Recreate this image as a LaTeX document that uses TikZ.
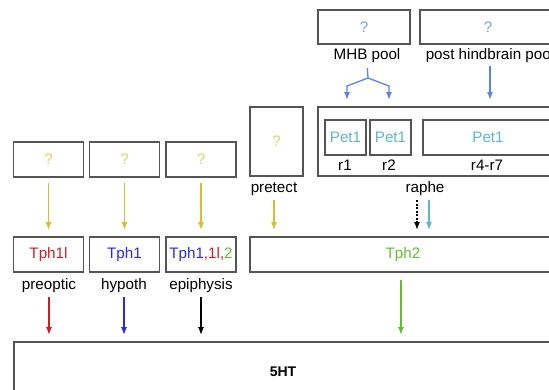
\documentclass[tikz,border=0pt]{standalone}
\usepackage{fontspec}
\setmainfont{Liberation Sans}
\usetikzlibrary{arrows.meta,calc}
\definecolor{boxgray}{HTML}{555555}
\definecolor{qyellow}{HTML}{D6BE30}
\definecolor{qlight}{HTML}{E2D060}
\definecolor{poolblue}{HTML}{5C82EC}
\definecolor{petcyan}{HTML}{5CB8C8}
\definecolor{tphred}{HTML}{C8202A}
\definecolor{tphblue}{HTML}{2A2AE6}
\definecolor{tphgreen}{HTML}{66BB33}
\newcommand\lblfont{\fontsize{15.2}{17}\selectfont}
\tikzset{
  box/.style={draw=boxgray, line width=1.3pt, inner sep=0pt, outer sep=0pt, font=\lblfont},
  lbl/.style={inner sep=0pt, font=\lblfont, text height=11pt, text depth=3pt},
  arr/.style={line width=1.3pt, -{Latex[length=8pt,width=6pt]}, shorten >=7pt, shorten <=6pt}
}
\begin{document}
\begin{tikzpicture}[x=1pt, y=-1pt]
    \useasboundingbox (0,0) rectangle (549,389);
    \clip (0,0) rectangle (549,389);
    % pools
    \node [box, minimum width=92, minimum height=34] (mhb) at (364, 27) {\textcolor{poolblue!80}{?}};
    \node [box, minimum width=136, minimum height=34] (post) at (488, 27) {\textcolor{poolblue!80}{?}};
    \node [lbl] (mhblbl) at (367, 55) {MHB pool};
    \node [lbl] (postlbl) at (490, 55) {post hindbrain pool};
    % raphe
    \node [box, minimum width=242, minimum height=69] (raphe) at (439, 141.5) {};
    \node [box, minimum width=41, minimum height=35] (r1) at (345.5, 137.5) {\textcolor{petcyan}{Pet1}};
    \node [box, minimum width=41, minimum height=35] (r2) at (390.5, 137.5) {\textcolor{petcyan}{Pet1}};
    \node [box, minimum width=130, minimum height=35] (r47) at (488, 137.5) {\textcolor{petcyan}{Pet1}};
    \node [lbl] (r1lbl) at (345, 166) {r1};
    \node [lbl] (r2lbl) at (389, 166) {r2};
    \node [lbl] (r47lbl) at (487, 166) {r4-r7};
    \node [lbl] (raphelbl) at (425, 188) {raphe};
    % pretect
    \node [box, minimum width=53, minimum height=69] (pretect) at (276.5, 141.5) {\textcolor{qlight}{?}};
    \node [lbl] (pretectlbl) at (274, 188) {pretect};
    % forebrain groups
    \node [box, minimum width=70, minimum height=35] (q1) at (48.5, 159.5) {\textcolor{qlight}{?}};
    \node [box, minimum width=70, minimum height=35] (q2) at (124.5, 159.5) {\textcolor{qlight}{?}};
    \node [box, minimum width=70, minimum height=35] (q3) at (201, 159.5) {\textcolor{qlight}{?}};
    \node [box, minimum width=70, minimum height=35] (t1) at (48.5, 254.5) {\textcolor{tphred}{Tph1l}};
    \node [box, minimum width=70, minimum height=35] (t2) at (124.5, 254.5) {\textcolor{tphblue}{Tph1}};
    \node [box, minimum width=70, minimum height=35] (t3) at (201, 254.5) {\textcolor{tphblue}{Tph1}\textcolor{tphred}{,1l,}\textcolor{tphgreen}{2}};
    \node [lbl] (t1lbl) at (49, 285) {preoptic};
    \node [lbl] (t2lbl) at (124, 285) {hypoth};
    \node [lbl] (t3lbl) at (201, 285) {epiphysis};
    \node [box, minimum width=306, minimum height=35] (tph2) at (403, 254.5) {\textcolor{tphgreen}{Tph2}};
    % 5HT
    \node [box, minimum width=538, minimum height=60, font=\fontsize{14}{16}\selectfont\bfseries] (ht) at (283, 372) {5HT};

    \coordinate (fork) at (368, 78);
    \coordinate (b1) at (347, 86);
    \coordinate (b2) at (389, 86);
    \draw [line width=1.3pt, poolblue, shorten <=6pt] (mhblbl.south) -- (fork);
    \draw [arr, poolblue, shorten <=0pt] (fork) -- (b1) -- (b1 |- raphe.north);
    \draw [arr, poolblue, shorten <=0pt] (fork) -- (b2) -- (b2 |- raphe.north);
    \draw [arr, poolblue, shorten <=4pt] (postlbl.south) -- (postlbl.south |- raphe.north);

    \draw [arr, qyellow] (q1) -- (t1);
    \draw [arr, qyellow] (q2) -- (t2);
    \draw [arr, qyellow] (q3) -- (t3);
    \draw [arr, qyellow, shorten <=5pt] (pretectlbl.south) -- (pretectlbl.south |- tph2.north);
    \draw [arr, dash pattern=on 2pt off 1.5pt, shorten <=5pt] ([xshift=-8pt]raphelbl.south) -- ([xshift=-8pt]raphelbl.south |- tph2.north);
    \draw [arr, petcyan, shorten <=5pt] ([xshift=4pt]raphelbl.south) -- ([xshift=4pt]raphelbl.south |- tph2.north);

    \draw [arr, tphred, shorten <=5pt] (t1lbl.south) -- (t1lbl.south |- ht.north);
    \draw [arr, tphblue, shorten <=5pt] (t2lbl.south) -- (t2lbl.south |- ht.north);
    \draw [arr, black, shorten <=5pt] (t3lbl.south) -- (t3lbl.south |- ht.north);
    \draw [arr, tphgreen, shorten <=8pt] ([xshift=-2pt]tph2.south) -- ([xshift=-2pt]tph2.south |- ht.north);
\end{tikzpicture}
\end{document}
